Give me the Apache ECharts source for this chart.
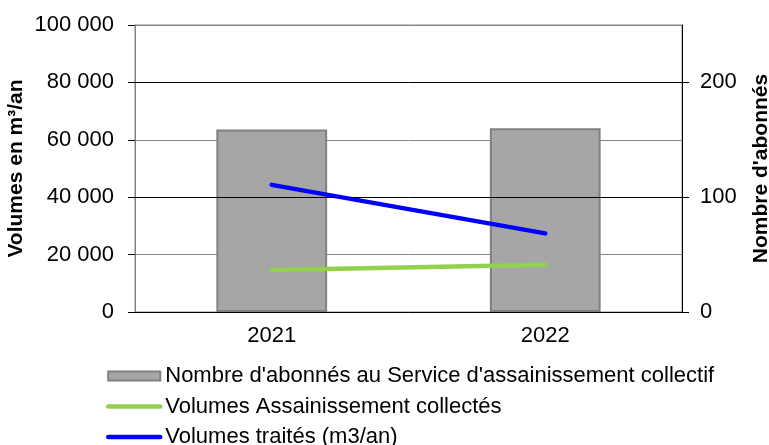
<!DOCTYPE html>
<html>
<head>
<meta charset="utf-8">
<script src="https://cdn.jsdelivr.net/npm/echarts@6/dist/echarts.min.js"></script>
<style>
  html, body { margin: 0; padding: 0; background: #fff; }
  #chart { width: 769px; height: 445px; }
</style>
</head>
<body>
<div id="chart"></div>
<script>
  // données
  var annees = ['2021', '2022'];
  var abonnes = [159, 160];
  var volumesCollectes = [14600, 16500];
  var volumesTraites = [44300, 27400];
  var ticksAbonnes = [0, 100, 200];

  var police = 'Liberation Sans, Arial, sans-serif';
  var chart = echarts.init(document.getElementById('chart'));

  var option = {
    animation: false,
    textStyle: { fontFamily: police, color: '#000' },
    grid: {
      left: 135, right: 87, top: 25, bottom: 133,
      outerBoundsMode: 'none',
      containLabel: false,
      show: true, borderColor: '#868686', borderWidth: 1
    },
    legend: {
      orient: 'vertical',
      left: 106,
      top: 365,
      height: 120,
      padding: 0,
      itemGap: 8.5,
      itemWidth: 52,
      itemHeight: 9,
      textStyle: { fontFamily: police, fontSize: 22, lineHeight: 22, color: '#000' },
      data: [
        { name: "Nombre d'abonnés au Service d'assainissement collectif", icon: 'rect',
          itemStyle: { color: '#a6a6a6', borderColor: '#808080', borderWidth: 2 } },
        { name: 'Volumes Assainissement collectés', itemStyle: { opacity: 0 },
          lineStyle: { width: 4.5, color: '#92d050' } },
        { name: 'Volumes traités (m3/an)', itemStyle: { opacity: 0 },
          lineStyle: { width: 4.5, color: '#0000ff' } }
      ]
    },
    xAxis: {
      type: 'category',
      data: annees,
      axisLine: { lineStyle: { color: '#000', width: 1 } },
      axisTick: { length: 5, lineStyle: { color: '#000' } },
      axisLabel: { fontSize: 22, color: '#000', margin: 13 }
    },
    yAxis: [
      {
        type: 'value',
        min: 0, max: 100000, interval: 20000,
        name: 'Volumes en m³/an',
        nameLocation: 'middle',
        nameRotate: 90,
        nameGap: 108,
        nameMoveOverlap: false,
        nameTextStyle: { fontSize: 21, fontWeight: 'bold', color: '#000' },
        axisLine: { show: true, lineStyle: { color: '#808080' } },
        axisTick: { show: true, length: 7, lineStyle: { color: '#000' } },
        axisLabel: {
          fontSize: 22, color: '#000', margin: 21,
          formatter: function (v) { return String(v).replace(/\B(?=(\d{3})+(?!\d))/g, ' '); }
        },
        splitLine: { show: true, lineStyle: { color: '#868686' } }
      },
      {
        type: 'value',
        min: 0, max: 250, interval: 50,
        position: 'right',
        name: "Nombre d'abonnés",
        nameLocation: 'middle',
        nameRotate: 90,
        nameGap: 69,
        nameMoveOverlap: false,
        nameTextStyle: { fontSize: 21, fontWeight: 'bold', color: '#000' },
        axisLine: { show: true, lineStyle: { color: '#000' } },
        axisTick: { show: true, length: 7, customValues: ticksAbonnes, lineStyle: { color: '#000' } },
        axisLabel: { fontSize: 22, color: '#000', margin: 18, customValues: ticksAbonnes },
        splitLine: { show: false }
      }
    ],
    series: [
      {
        name: "Nombre d'abonnés au Service d'assainissement collectif",
        type: 'bar',
        yAxisIndex: 1,
        data: abonnes,
        barWidth: '40.5%',
        itemStyle: { color: '#a6a6a6', borderColor: '#808080', borderWidth: 2 },
        markLine: {
          silent: true, symbol: 'none', label: { show: false },
          lineStyle: { color: '#000', width: 1, type: 'solid' },
          data: [{ yAxis: 100 }, { yAxis: 200 }]
        },
        z: 1
      },
      {
        name: 'Volumes Assainissement collectés',
        type: 'line',
        yAxisIndex: 0,
        data: volumesCollectes,
        symbol: 'none',
        lineStyle: { color: '#92d050', width: 4.5, cap: 'round' },
        itemStyle: { color: '#92d050' },
        z: 3
      },
      {
        name: 'Volumes traités (m3/an)',
        type: 'line',
        yAxisIndex: 0,
        data: volumesTraites,
        symbol: 'none',
        lineStyle: { color: '#0000ff', width: 4.5, cap: 'round' },
        itemStyle: { color: '#0000ff' },
        z: 3
      }
    ]
  };

  chart.setOption(option);
</script>
</body>
</html>
